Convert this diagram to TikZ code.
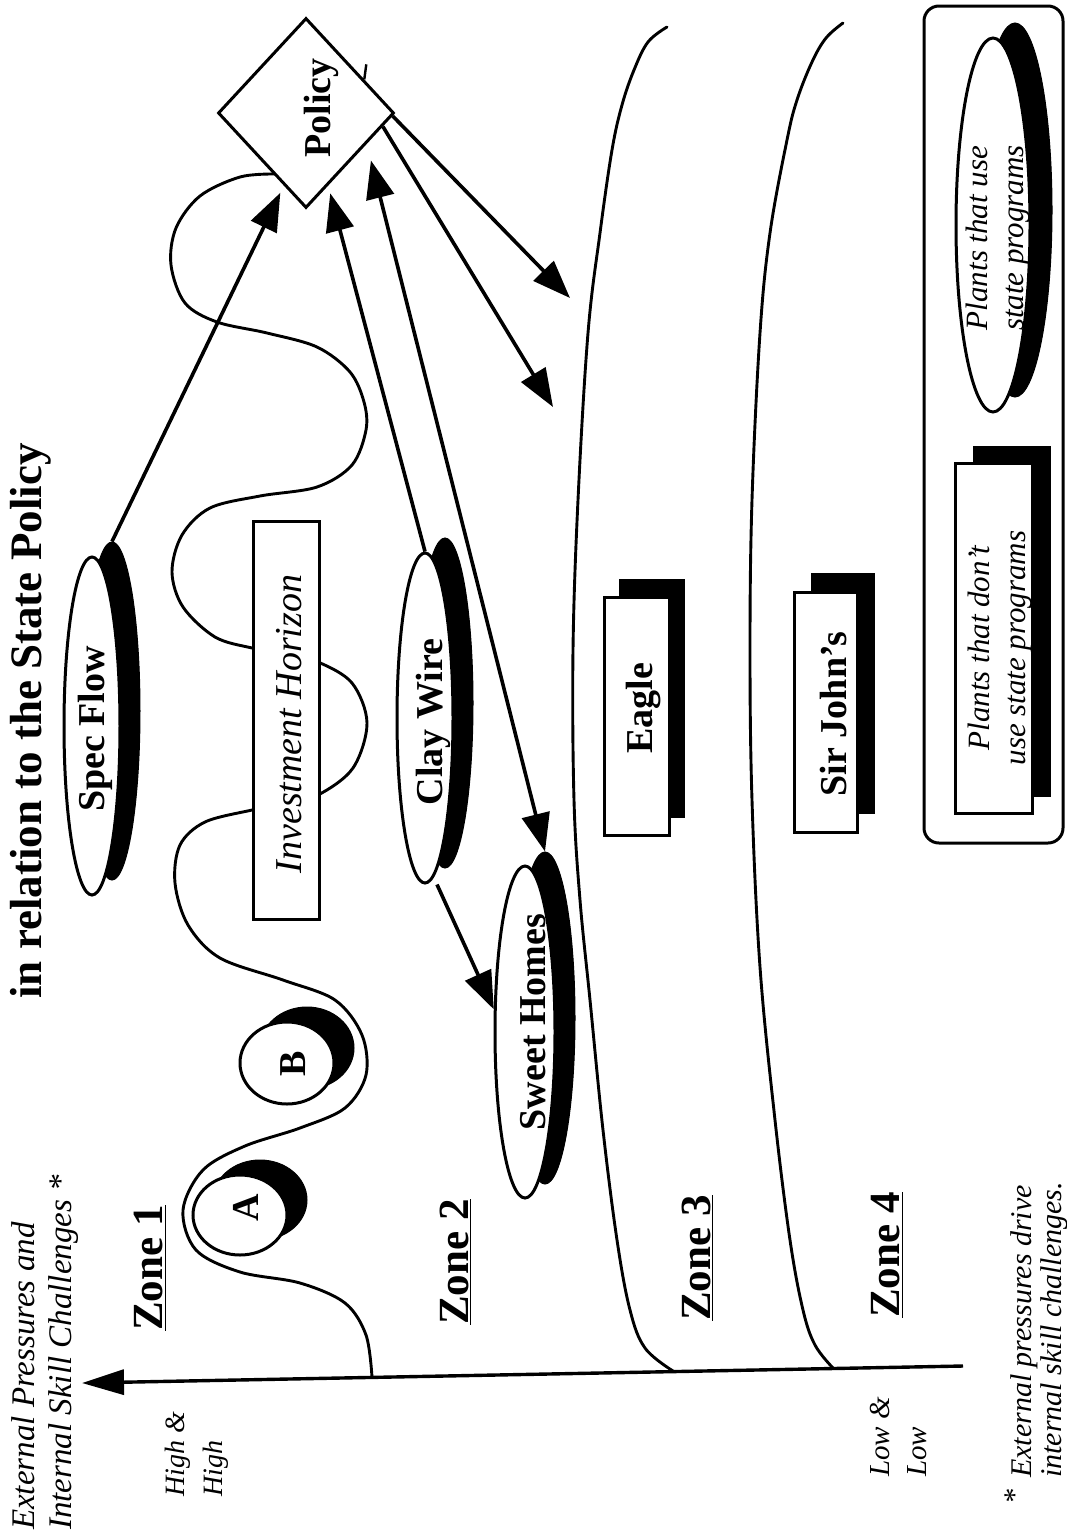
\documentclass[tikz,border=0pt]{standalone}
\usepackage{fontspec}
\setmainfont{Liberation Serif}
\usetikzlibrary{arrows.meta,shapes.geometric}
\begin{document}
\begin{tikzpicture}[x=1pt,y=-1pt,
  outl/.style={draw=black, line width=3pt},
  shad/.style={fill=black, draw=black, line width=1pt, inner sep=0pt},
  boxw/.style={outl, fill=white, inner sep=0pt},
  boxs/.style={shad},
  elw/.style={ellipse, outl, fill=white, inner sep=0pt},
  els/.style={ellipse, shad},
  bold/.style={rotate=90, inner sep=0pt, font=\bfseries\fontsize{38}{44}\selectfont},
  zone/.style={rotate=90, inner sep=0pt, font=\bfseries\fontsize{43}{48}\selectfont},
  ital/.style={rotate=90, inner sep=0pt, font=\itshape\fontsize{38}{44}\selectfont},
  smallit/.style={rotate=90, inner sep=0pt, align=center, font=\itshape\fontsize{31}{36}\selectfont},
  arr/.style={line width=3.6pt, -{Triangle[length=38pt,width=28pt]}},
  curve/.style={line width=2.9pt, line cap=round},
]
\useasboundingbox (0,0) rectangle (1066,1532);
\fill[white] (0,0) rectangle (1066,1532);

% ---------- zone boundaries ----------
\draw[curve] plot[smooth, tension=0.6] coordinates {(667,27) (648,42) (634,70) (622,105) (612,150) (600,233) (588,333) (578,500) (573,650) (574,800) (580,900) (590,1000) (603,1130) (617,1240) (630,1310) (645,1348) (673,1371)};
\draw[curve] plot[smooth, tension=0.6] coordinates {(843,23) (826,38) (812,62) (797,100) (787,140) (770,233) (760,333) (752,500) (750,650) (752,800) (760,967) (775,1120) (790,1240) (803,1310) (815,1345) (833,1368)};

% ---------- policy ----------
\node[shape=diamond, outl, fill=white, minimum width=176pt, minimum height=190pt, inner sep=0pt] (policy) at (306,113) {};
\node[bold] (policytxt) at (321,108) {Policy};
\draw[line width=2.4pt] (policy.30) -- ++(2,-15);

% ---------- wavy investment horizon curve ----------
\draw[curve] plot[smooth, tension=0.55] coordinates {(275,174) (240,177) (200,196) (176,228) (171,265) (185,303) (217,322) (267,333) (317,347) (350,372) (364,402) (366,430) (352,465) (317,487) (260,496) (210,508) (182,535) (172,572) (183,607) (215,637) (252,648) (285,654) (318,662) (352,683) (367,723) (353,768) (318,795) (285,803) (252,810) (205,822) (180,845) (175,883) (188,925) (220,958) (283,980) (335,1000) (362,1035) (366,1075) (345,1108) (300,1128) (245,1146) (203,1170) (183,1210) (196,1250) (240,1272) (300,1283) (345,1303) (366,1335) (372,1377)};

\node[boxw, minimum width=66pt, minimum height=398pt] (inv) at (286,720) {};
\node[ital] (invtxt) at (289,724) {Investment Horizon};

% ---------- title ----------
\node[rotate=90, inner sep=0pt, font=\bfseries\fontsize{45}{50}\selectfont] (title) at (31,721) {in relation to the State Policy};

% ---------- ellipses (plants using state programs) ----------
\node[els, minimum width=56pt, minimum height=338pt] (specS) at (112,711) {};
\node[elw, minimum width=56pt, minimum height=338pt] (spec) at (92,726) {};
\node[bold] (spectxt) at (95,729) {Spec Flow};

\node[els, minimum width=56pt, minimum height=330pt] (clayS) at (445,703) {};
\node[elw, minimum width=56pt, minimum height=330pt] (clay) at (425,718) {};
\node[bold] (claytxt) at (433,722) {Clay Wire};

\node[els, minimum width=60pt, minimum height=332pt] (sweetS) at (545,1018) {};
\node[elw, minimum width=60pt, minimum height=332pt] (sweet) at (525,1032) {};
\node[bold] (sweettxt) at (533,1022) {Sweet Homes};

\node[els, minimum width=94pt, minimum height=82pt] (bS) at (307,1048) {};
\node[elw, minimum width=94pt, minimum height=82pt] (b) at (287,1063) {};
\node[bold] (btxt) at (293,1064) {B};

\node[els, minimum width=94pt, minimum height=80pt] (aS) at (260,1200) {};
\node[elw, minimum width=94pt, minimum height=80pt] (a) at (240,1215) {};
\node[bold] (atxt) at (246,1208) {A};

% ---------- rectangles (plants not using state programs) ----------
\node[boxs, minimum width=65pt, minimum height=238pt] (eagleS) at (652,698) {};
\node[boxw, minimum width=65pt, minimum height=238pt] (eagle) at (637,716) {};
\node[bold] (eagletxt) at (644,708) {Eagle};

\node[boxs, minimum width=63pt, minimum height=240pt] (sirS) at (843,693) {};
\node[boxw, minimum width=63pt, minimum height=240pt] (sir) at (826,712) {};
\node[bold] (sirtxt) at (833,714) {Sir John’s};

% ---------- legend ----------
\node[outl, rounded corners=15pt, minimum width=139pt, minimum height=837pt, inner sep=0pt] (legend) at (993.5,424.5) {};
\node[els, minimum width=74pt, minimum height=374pt] (legelS) at (1015,210) {};
\node[elw, minimum width=74pt, minimum height=374pt] (legel) at (993,225) {};
\node[smallit] (legeltxt) at (998,238) {Plants that use\\state programs};
\node[boxs, minimum width=77pt, minimum height=350pt] (legrecS) at (1012,621) {};
\node[boxw, minimum width=77pt, minimum height=350pt] (legrec) at (994,638) {};
\node[smallit] (legrectxt) at (1000,648) {Plants that don’t\\use state programs};

% ---------- connectors ----------
\draw[arr, shorten >=8pt] (specS.north) -- (policy.-107);
\draw[arr, shorten >=8pt] (clay.north) -- (policy.-73);
\draw[line width=3.6pt, {Triangle[length=38pt,width=28pt]}-{Triangle[length=38pt,width=28pt]}, shorten >=17pt] (sweetS.north) -- (policy.-27);
\draw[arr] ([xshift=12pt]clay.south) -- (sweet.144);
\coordinate (t1) at (570,298);
\coordinate (t2) at (553,407);
\draw[arr] (policy.-2) -- (t1);
\draw[arr] (policy.-10) -- (t2);

% ---------- axis ----------
\coordinate (axR) at (963,1366);
\coordinate (axL) at (82,1383);
\draw[line width=3.4pt, -{Triangle[length=42pt,width=25pt]}] (axR) -- (axL);

% ---------- zone labels ----------
\node[zone] (z1) at (150,1268) {\underline{Zone 1}};
\node[zone] (z2) at (455,1262) {\underline{Zone 2}};
\node[zone] (z3) at (697,1258) {\underline{Zone 3}};
\node[zone] (z4) at (887,1255) {\underline{Zone 4}};

% ---------- axis texts ----------
\node[rotate=90, inner sep=0pt, anchor=west, align=left, font=\itshape\fontsize{33}{37}\selectfont] (axlabel) at (45,1530) {External Pressures and\\Internal Skill Challenges *};
\node[rotate=90, inner sep=0pt, anchor=west, align=left, font=\itshape\fontsize{28}{38}\selectfont] (high) at (197,1497) {High \&\\High};
\node[rotate=90, inner sep=0pt, anchor=west, align=left, font=\itshape\fontsize{29}{37}\selectfont] (low) at (898,1477) {Low \&\\Low};
\node[rotate=90, inner sep=0pt, font=\itshape\fontsize{30}{30}\selectfont] (star) at (1015,1497) {*};
\node[rotate=90, inner sep=0pt, anchor=west, align=left, font=\itshape\fontsize{30}{30}\selectfont] (foot) at (1039,1478) {External pressures drive\\internal skill challenges.};
\end{tikzpicture}
\end{document}
